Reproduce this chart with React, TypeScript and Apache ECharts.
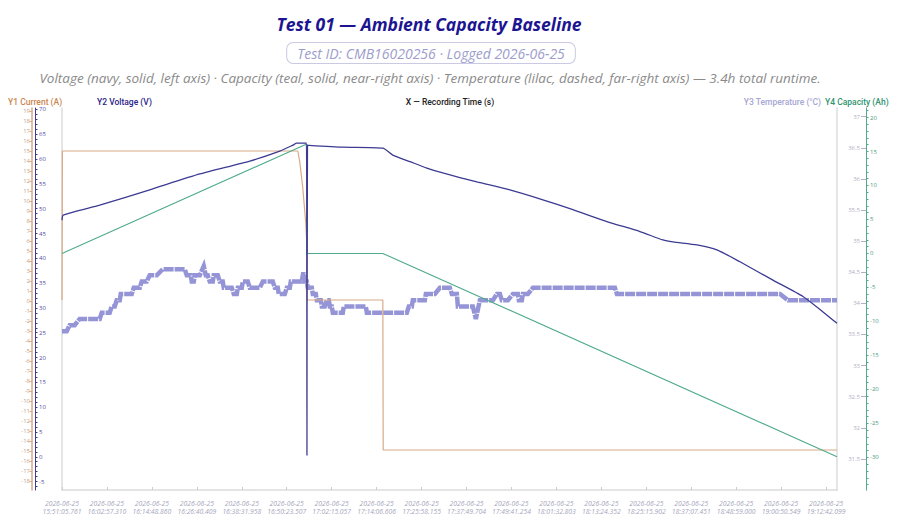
import React, { useEffect, useRef } from "react";
import * as echarts from "echarts";

const FONT = "'Open Sans', 'Noto Sans', sans-serif";
const NAME_FONT = "Roboto, 'Noto Sans', sans-serif";

const TITLE = "Test 01 — Ambient Capacity Baseline";
const SUBTITLE = "Test ID: CMB16020256 · Logged 2026-06-25";
const DESCRIPTION =
  "Voltage (navy, solid, left axis) · Capacity (teal, solid, near-right axis) · Temperature (lilac, dashed, far-right axis) — 3.4h total runtime.";

const AXIS_NAMES = {
  current: "Y1 Current (A)",
  voltage: "Y2 Voltage (V)",
  time: "X — Recording Time (s)",
  temperature: "Y3 Temperature (°C)",
  capacity: "Y4 Capacity (Ah)",
};

// x axis: seconds since the first sample
const TOTAL_SECONDS = 12269;
const TICK_STEP = 711.549;
const TICK_DATE = "2026-06-25";
const TICK_TIMES = [
  "15:51:05.761", "16:02:57.310", "16:14:48.860", "16:26:40.409", "16:38:31.958",
  "16:50:23.507", "17:02:15.057", "17:14:06.606", "17:25:58.155", "17:37:49.704",
  "17:49:41.254", "18:01:32.803", "18:13:24.352", "18:25:15.902", "18:37:07.451",
  "18:48:59.000", "19:00:50.549", "19:12:42.099",
];

// axis ranges and tick labels
const CURRENT_RANGE = [-18.9, 19.3];
const VOLTAGE_RANGE = [-6.7, 70.3];
const TEMP_RANGE = [31.0, 37.14];
const CAPACITY_RANGE = [-34.8, 21.4];

const CURRENT_TICKS = [
  -18, -17, -16, -15, -14, -13, -12, -11, -10, -9, -8, -7, -6, -5, -4, -3, -2, -1,
  0, 1, 2, 3, 4, 5, 6, 7, 8, 9, 10, 11, 12, 13, 14, 15, 16, 17, 18, 19,
];
const VOLTAGE_TICKS = [-5, 0, 5, 10, 15, 20, 25, 30, 35, 40, 45, 50, 55, 60, 65, 70];
const TEMP_TICKS = [31.5, 32, 32.5, 33, 33.5, 34, 34.5, 35, 35.5, 36, 36.5, 37];
const CAPACITY_TICKS = [-30, -25, -20, -15, -10, -5, 0, 5, 10, 15, 20];

// series: [seconds, value]
const CURRENT: [number, number][] = [
  [0, 0.1], [6, 15.0], [3733, 15.0], [3764, 13.9], [3812, 11.3], [3859, 7.8],
  [3875, 5.8], [3880, 0.1], [5079, 0.1], [5085, -14.9], [12269, -14.9],
];

const VOLTAGE: [number, number][] = [
  [0, 47.7], [20, 48.7], [597, 50.7], [1389, 53.8], [2181, 57.0], [2973, 59.6],
  [3448, 61.6], [3654, 62.8], [3717, 63.2], [3870, 63.2], [3878, 0.3], [3886, 62.8],
  [4445, 62.4], [5079, 62.2], [5237, 60.8], [5507, 59.5], [5776, 58.2], [6029, 57.2],
  [6568, 55.4], [7090, 53.8], [7613, 51.8], [8088, 49.8], [8626, 47.4], [9149, 45.4],
  [9513, 43.7], [9672, 43.3], [10052, 42.7], [10368, 41.7], [10733, 39.3],
  [11255, 35.6], [11730, 32.3], [12047, 29.2], [12269, 26.9],
];

const CAPACITY: [number, number][] = [
  [0, 0], [3875, 16.1], [3880, 0], [5079, 0], [12269, -29.9],
];

const TEMPERATURE: [number, number][] = [
  [0, 33.55], [74, 33.55], [122, 33.65], [201, 33.65], [280, 33.75], [597, 33.75],
  [629, 33.85], [755, 33.85], [787, 33.95], [835, 33.95], [866, 34.05], [914, 34.05],
  [930, 34.15], [1104, 34.15], [1136, 34.25], [1231, 34.25], [1262, 34.35], [1341, 34.35],
  [1389, 34.45], [1500, 34.45], [1595, 34.55], [1943, 34.55], [1975, 34.45], [2038, 34.45],
  [2054, 34.35], [2086, 34.35], [2102, 34.45], [2181, 34.45], [2244, 34.6], [2276, 34.45],
  [2307, 34.45], [2339, 34.35], [2387, 34.35], [2402, 34.45], [2466, 34.45], [2497, 34.35],
  [2545, 34.35], [2561, 34.25], [2688, 34.25], [2719, 34.15], [2767, 34.15], [2783, 34.25],
  [2846, 34.25], [2862, 34.35], [2941, 34.35], [2973, 34.25], [3131, 34.25], [3179, 34.35],
  [3337, 34.35], [3369, 34.25], [3416, 34.25], [3432, 34.15], [3527, 34.15], [3559, 34.25],
  [3606, 34.25], [3622, 34.35], [3796, 34.35], [3820, 34.5], [3844, 34.35], [3875, 34.35],
  [3891, 34.25], [3955, 34.25], [3970, 34.15], [4018, 34.15], [4034, 34.05], [4097, 34.05],
  [4113, 33.95], [4160, 33.95], [4192, 34.05], [4224, 34.05], [4240, 33.95], [4271, 33.95],
  [4287, 33.85], [4445, 33.85], [4461, 33.95], [4810, 33.95], [4826, 33.85], [5459, 33.85],
  [5491, 33.95], [5538, 33.95], [5554, 34.05], [5744, 34.05], [5760, 34.15], [5903, 34.15],
  [5982, 34.25], [6140, 34.25], [6172, 34.15], [6251, 34.15], [6267, 33.95], [6504, 33.95],
  [6552, 33.75], [6615, 34.05], [6821, 34.05], [6884, 34.15], [6932, 34.15], [6963, 34.05],
  [7059, 34.05], [7138, 34.15], [7217, 34.15], [7233, 34.05], [7280, 34.05], [7296, 34.15],
  [7375, 34.15], [7454, 34.25], [8753, 34.25], [8785, 34.15], [11366, 34.15], [11493, 34.05],
  [12269, 34.05],
];

const COLORS = {
  title: "#1c1591",
  subtitle: "#9d9dcc",
  subtitleBorder: "#cacae2",
  description: "#8a8a8a",
  current: "#d9a985",
  currentName: "#c98650",
  currentLabel: "#c9a285",
  voltage: "#3c3a92",
  voltageName: "#2a2289",
  voltageLabel: "#4f4ca3",
  temperature: "#9494d6",
  temperatureName: "#a6a6d4",
  temperatureLabel: "#b2b2c6",
  capacity: "#4fab8b",
  capacityName: "#2f9470",
  capacityLabel: "#4c9c80",
  border: "#dcdcdc",
  xLabel: "#a6a6bc",
};

// every whole step inside the range (major + minor tick positions)
function stepTicks(lo: number, hi: number, step: number) {
  const out: number[] = [];
  for (let v = Math.ceil(lo / step) * step; v <= hi + 1e-9; v += step) out.push(Math.round(v * 1000) / 1000);
  return out;
}

function buildOption() {
  const xTicks = TICK_TIMES.map((_, i) => i * TICK_STEP);
  const labelBase = { fontFamily: FONT, fontSize: 6 };

  const yAxes: any[] = [
    {
      type: "value", position: "left", offset: 30,
      min: CURRENT_RANGE[0], max: CURRENT_RANGE[1],
      axisLine: { show: true, onZero: false, lineStyle: { color: COLORS.current, width: 1.5 } },
      axisTick: { show: true, length: 2.5, customValues: CURRENT_TICKS, lineStyle: { color: COLORS.current } },
      axisLabel: { ...labelBase, color: COLORS.currentLabel, margin: 2, customValues: CURRENT_TICKS },
      splitLine: { show: false },
    },
    {
      type: "value", position: "left", offset: 27,
      min: VOLTAGE_RANGE[0], max: VOLTAGE_RANGE[1],
      axisLine: { show: true, onZero: false, lineStyle: { color: COLORS.voltage, width: 1 } },
      axisTick: {
        show: true, inside: true, length: 2.5,
        customValues: stepTicks(VOLTAGE_RANGE[0], VOLTAGE_RANGE[1], 1),
        lineStyle: { color: COLORS.voltage },
      },
      axisLabel: { ...labelBase, inside: true, color: COLORS.voltageLabel, margin: 4, customValues: VOLTAGE_TICKS },
      splitLine: { show: false },
    },
    {
      type: "value", position: "right", offset: 29,
      min: TEMP_RANGE[0], max: TEMP_RANGE[1],
      axisLine: { show: true, onZero: false, lineStyle: { color: COLORS.temperatureName, width: 1 } },
      axisTick: { show: true, inside: true, length: 5, customValues: TEMP_TICKS, lineStyle: { color: COLORS.temperatureLabel } },
      axisLabel: { ...labelBase, inside: true, color: COLORS.temperatureLabel, margin: 6, customValues: TEMP_TICKS },
      splitLine: { show: false },
    },
    {
      type: "value", position: "right", offset: 29,
      min: CAPACITY_RANGE[0], max: CAPACITY_RANGE[1],
      axisLine: { show: true, onZero: false, lineStyle: { color: COLORS.capacity, width: 1 } },
      axisTick: {
        show: true, length: 2.5,
        customValues: stepTicks(CAPACITY_RANGE[0], CAPACITY_RANGE[1], 1),
        lineStyle: { color: COLORS.capacity },
      },
      axisLabel: { ...labelBase, color: COLORS.capacityLabel, margin: 4, customValues: CAPACITY_TICKS },
      splitLine: { show: false },
    },
    {
      type: "value", position: "left", offset: 0, min: 0, max: 1,
      axisLine: { show: true, onZero: false, lineStyle: { color: COLORS.border, width: 1.5 } },
      axisTick: { show: false }, axisLabel: { show: false }, splitLine: { show: false },
    },
    {
      type: "value", position: "right", offset: 0, min: 0, max: 1,
      axisLine: { show: true, onZero: false, lineStyle: { color: COLORS.border, width: 1.5 } },
      axisTick: { show: false }, axisLabel: { show: false }, splitLine: { show: false },
    },
  ];

  const nameText = (text: string, x: number, align: string, fill: string) => ({
    type: "text",
    x,
    y: 102,
    z: 10,
    style: {
      text,
      fill,
      fontFamily: NAME_FONT,
      fontSize: 8.5,
      fontWeight: 500,
      align,
      verticalAlign: "middle",
    },
  });

  return {
    animation: false,
    backgroundColor: "#ffffff",
    graphic: [
      {
        type: "text", x: 429, y: 24, z: 10,
        style: {
          text: TITLE, fill: COLORS.title, fontFamily: FONT, fontSize: 17.5,
          fontWeight: "bold", fontStyle: "italic", align: "center", verticalAlign: "middle",
        },
      },
      {
        type: "text", x: 431, y: 53, z: 10,
        style: {
          text: SUBTITLE, fill: COLORS.subtitle, fontFamily: FONT, fontSize: 14,
          fontStyle: "italic", align: "center", verticalAlign: "middle",
          padding: [3, 10], borderColor: COLORS.subtitleBorder, borderWidth: 1, borderRadius: 6,
          backgroundColor: "#ffffff",
        },
      },
      {
        type: "text", x: 430, y: 78, z: 10,
        style: {
          text: DESCRIPTION, fill: COLORS.description, fontFamily: FONT, fontSize: 13.5,
          fontStyle: "italic", align: "center", verticalAlign: "middle",
        },
      },
      nameText(AXIS_NAMES.current, 8, "left", COLORS.currentName),
      nameText(AXIS_NAMES.voltage, 97, "left", COLORS.voltageName),
      nameText(AXIS_NAMES.time, 450, "center", "#222222"),
      nameText(AXIS_NAMES.temperature, 821, "right", COLORS.temperatureName),
      nameText(AXIS_NAMES.capacity, 825, "left", COLORS.capacityName),
    ],
    grid: { left: 62, right: 63, top: 108, bottom: 33, containLabel: false },
    xAxis: {
      type: "value",
      min: 0,
      max: TOTAL_SECONDS,
      axisLine: { show: true, onZero: false, lineStyle: { color: COLORS.border, width: 1.5 } },
      axisTick: { show: true, inside: true, length: 3, customValues: xTicks, lineStyle: { color: "#cccccc" } },
      axisLabel: {
        customValues: xTicks,
        fontFamily: FONT,
        fontSize: 6.8,
        fontStyle: "italic",
        color: COLORS.xLabel,
        lineHeight: 8,
        margin: 9,
        formatter: (v: number) => {
          const i = Math.round(v / TICK_STEP);
          return TICK_DATE + "\n" + (TICK_TIMES[i] ?? "");
        },
      },
      splitLine: { show: false },
    },
    yAxis: yAxes,
    series: [
      {
        name: "Temperature",
        type: "line",
        yAxisIndex: 2,
        data: TEMPERATURE,
        showSymbol: false,
        lineStyle: { color: COLORS.temperature, width: 4.5, type: [10, 1], cap: "butt", join: "miter" },
        z: 1,
      },
      {
        name: "Current",
        type: "line",
        yAxisIndex: 0,
        data: CURRENT,
        showSymbol: false,
        lineStyle: { color: COLORS.current, width: 1.2 },
        z: 2,
      },
      {
        name: "Capacity",
        type: "line",
        yAxisIndex: 3,
        data: CAPACITY,
        showSymbol: false,
        lineStyle: { color: COLORS.capacity, width: 1.1 },
        z: 3,
      },
      {
        name: "Voltage",
        type: "line",
        yAxisIndex: 1,
        data: VOLTAGE,
        showSymbol: false,
        smooth: 0.2,
        lineStyle: { color: COLORS.voltage, width: 1.3 },
        z: 4,
      },
    ],
  };
}

export default function App() {
  const ref = useRef<HTMLDivElement>(null);
  useEffect(() => {
    document.body.style.margin = "0";
    if (!ref.current) return;
    const chart = echarts.init(ref.current, null, { renderer: "svg" });
    chart.setOption(buildOption() as any);
    return () => chart.dispose();
  }, []);
  return <div ref={ref} style={{ width: 900, height: 523 }} />;
}
